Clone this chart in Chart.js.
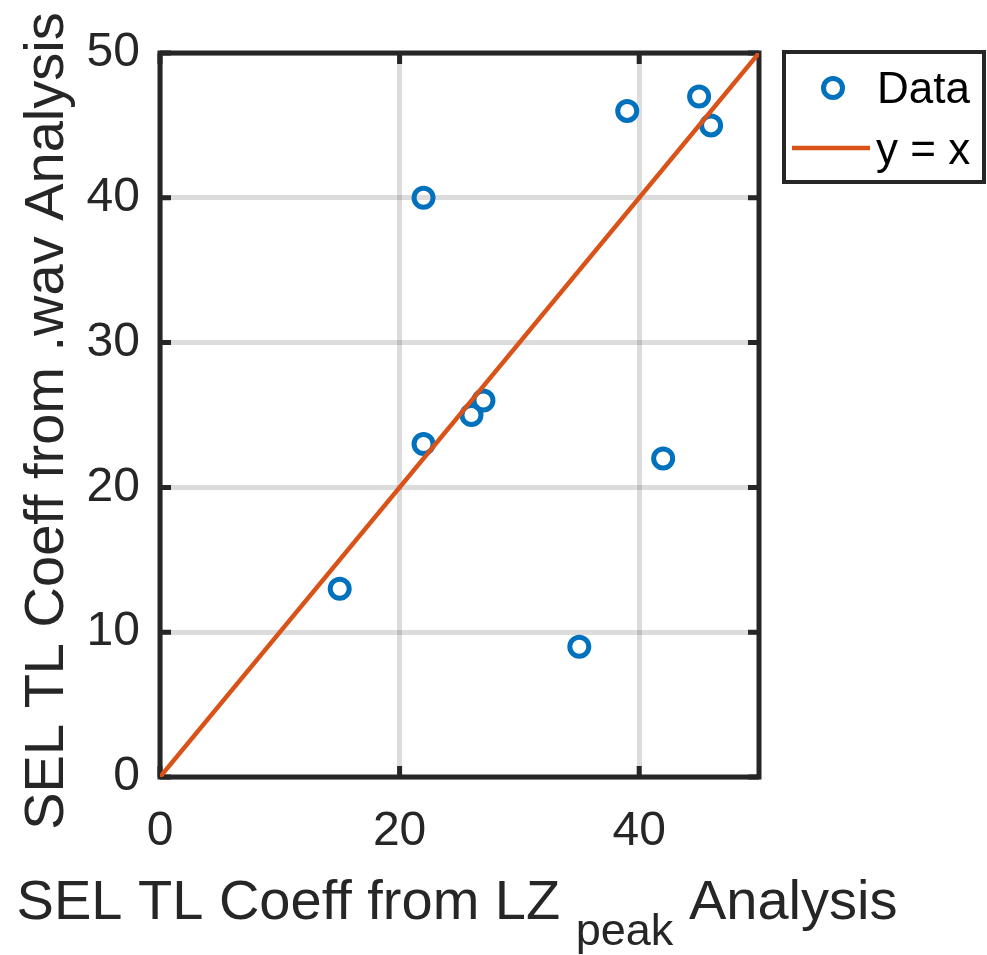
<!DOCTYPE html>
<html>
<head>
<meta charset="utf-8">
<script src="https://cdn.jsdelivr.net/npm/chart.js@4.4.1/dist/chart.umd.min.js"></script>
<style>
  html, body { margin: 0; padding: 0; background: #ffffff; }
  #wrap { width: 987px; height: 955px; position: relative; }
</style>
</head>
<body>
<div id="wrap"><canvas id="c" width="987" height="955"></canvas></div>
<script>
// ---- data ----
const dataX = [15, 22, 22, 26, 27, 35, 39, 42, 45, 46];
const dataY = [13, 40, 23, 25, 26, 9, 46, 22, 47, 45];
const refLineX = [0, 50];
const refLineY = [0, 50];
const xTickValues = [0, 20, 40];
const yTickValues = [0, 10, 20, 30, 40, 50];
const seriesNames = ['Data', 'y = x'];
const xTitleMain = 'SEL TL Coeff from LZ';
const xTitleSub = 'peak';
const xTitleEnd = 'Analysis';
const yTitle = 'SEL TL Coeff from .wav Analysis';

const FONT = '"Liberation Sans", Arial, Helvetica, sans-serif';
const INK = '#262626';
const BLUE = '#0072BD';
const ORANGE = '#D95319';

const scatterPts = dataX.map((x, i) => ({ x: x, y: dataY[i] }));
const linePts = refLineX.map((x, i) => ({ x: x, y: refLineY[i] }));

const decor = {
  id: 'decor',
  beforeDatasetsDraw(chart) {
    const ctx = chart.ctx;
    const a = chart.chartArea;
    const xs = chart.scales.x, ys = chart.scales.y;
    ctx.save();
    ctx.strokeStyle = INK;
    ctx.lineWidth = 5;
    ctx.lineCap = 'butt';
    // inward tick marks on all four sides
    const tl = 11;
    ctx.beginPath();
    xTickValues.forEach(v => {
      const px = xs.getPixelForValue(v);
      ctx.moveTo(px, a.bottom); ctx.lineTo(px, a.bottom - tl);
      ctx.moveTo(px, a.top); ctx.lineTo(px, a.top + tl);
    });
    yTickValues.forEach(v => {
      const py = ys.getPixelForValue(v);
      ctx.moveTo(a.left, py); ctx.lineTo(a.left + tl, py);
      ctx.moveTo(a.right, py); ctx.lineTo(a.right - tl, py);
    });
    ctx.stroke();
    ctx.lineJoin = 'miter';
    ctx.strokeRect(a.left, a.top, a.right - a.left, a.bottom - a.top);
    ctx.restore();
  },
  afterDraw(chart) {
    const ctx = chart.ctx;
    const a = chart.chartArea;
    ctx.save();
    ctx.fillStyle = INK;
    // ---- x title with subscript ----
    const mainFont = '56px ' + FONT;
    const subFont = '45px ' + FONT;
    ctx.font = mainFont;
    const w1 = ctx.measureText(xTitleMain + ' ').width;
    const wSp = ctx.measureText(' ').width;
    const w3 = ctx.measureText(xTitleEnd).width;
    ctx.font = subFont;
    const w2 = ctx.measureText(xTitleSub).width;
    const total = w1 + w2 + wSp + w3;
    let x0 = 457 - total / 2;
    ctx.textBaseline = 'alphabetic';
    ctx.textAlign = 'left';
    ctx.font = mainFont;
    ctx.fillText(xTitleMain, x0, 919);
    ctx.font = subFont;
    ctx.fillText(xTitleSub, x0 + w1, 945);
    ctx.font = mainFont;
    ctx.fillText(xTitleEnd, x0 + w1 + w2 + wSp, 919);
    // ---- y title ----
    ctx.save();
    ctx.translate(63, 421);
    ctx.rotate(-Math.PI / 2);
    ctx.textAlign = 'center';
    ctx.textBaseline = 'alphabetic';
    ctx.font = mainFont;
    ctx.fillText(yTitle, 0, 0);
    ctx.restore();

    // ---- legend ----
    const ds0 = chart.data.datasets[0];
    const ds1 = chart.data.datasets[1];
    ctx.fillStyle = '#ffffff';
    ctx.fillRect(784, 52, 200, 130);
    ctx.strokeStyle = INK;
    ctx.lineWidth = 4;
    ctx.strokeRect(784, 52, 200, 130);
    // marker
    ctx.strokeStyle = ds0.borderColor;
    ctx.lineWidth = ds0.borderWidth;
    ctx.beginPath();
    ctx.arc(833, 88, ds0.pointRadius, 0, Math.PI * 2);
    ctx.stroke();
    // line sample
    ctx.strokeStyle = ds1.borderColor;
    ctx.lineWidth = ds1.borderWidth;
    ctx.beginPath();
    ctx.moveTo(792, 148);
    ctx.lineTo(870, 148);
    ctx.stroke();
    ctx.fillStyle = '#000000';
    ctx.font = '44px ' + FONT;
    ctx.textAlign = 'left';
    ctx.textBaseline = 'alphabetic';
    ctx.fillText(ds0.label, 877, 103);
    ctx.fillText(ds1.label, 876, 164);
    ctx.restore();
  }
};

new Chart(document.getElementById('c'), {
  type: 'scatter',
  data: {
    datasets: [
      {
        label: seriesNames[0],
        data: scatterPts,
        showLine: false,
        pointStyle: 'circle',
        pointRadius: 9.5,
        pointHoverRadius: 9.5,
        borderColor: BLUE,
        backgroundColor: 'rgba(0,0,0,0)',
        borderWidth: 5,
        order: 2
      },
      {
        type: 'line',
        label: seriesNames[1],
        data: linePts,
        showLine: true,
        pointRadius: 0,
        borderColor: ORANGE,
        backgroundColor: ORANGE,
        borderWidth: 4.5,
        fill: false,
        tension: 0,
        order: 1
      }
    ]
  },
  options: {
    responsive: false,
    animation: false,
    events: [],
    layout: { padding: { left: 0, top: 53, right: 228, bottom: 0 } },
    plugins: { legend: { display: false }, tooltip: { enabled: false }, title: { display: false } },
    scales: {
      x: {
        type: 'linear',
        min: 0, max: 50,
        afterBuildTicks(scale) { scale.ticks = xTickValues.map(v => ({ value: v })); },
        afterFit(scale) { scale.height = 178; },
        grid: { color: 'rgba(38,38,38,0.16)', lineWidth: 5, drawTicks: false },
        border: { display: false },
        ticks: { color: INK, font: { size: 48, family: FONT }, padding: 26, maxRotation: 0, autoSkip: false }
      },
      y: {
        type: 'linear',
        min: 0, max: 50,
        afterBuildTicks(scale) { scale.ticks = yTickValues.map(v => ({ value: v })); },
        afterFit(scale) { scale.width = 160; },
        grid: { color: 'rgba(38,38,38,0.16)', lineWidth: 5, drawTicks: false },
        border: { display: false },
        ticks: { color: INK, font: { size: 48, family: FONT }, padding: 20, autoSkip: false }
      }
    }
  },
  plugins: [decor]
});
</script>
</body>
</html>
